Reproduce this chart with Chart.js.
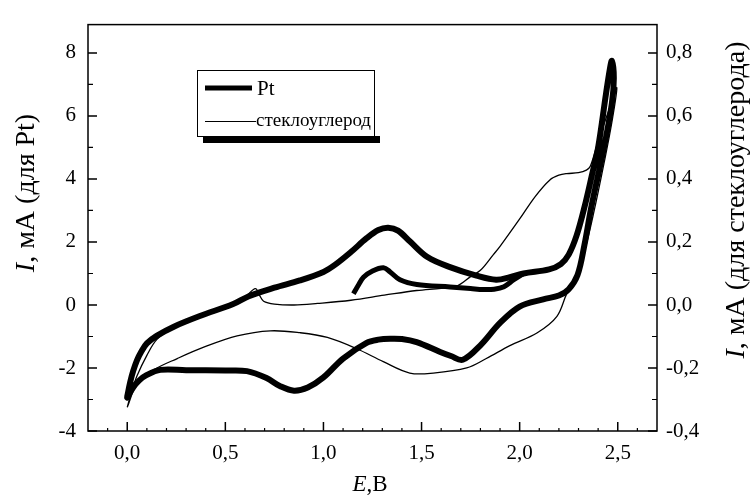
<!DOCTYPE html>
<html>
<head>
<meta charset="utf-8">
<script src="https://cdn.jsdelivr.net/npm/chart.js@4.4.1/dist/chart.umd.min.js"></script>
<style>
  html, body { margin: 0; padding: 0; background: #fff; }
</style>
</head>
<body>
<canvas id="chart" width="750" height="499"></canvas>
<script>
// Pt, full cycle (anodic then cathodic), left axis, mA
const ptE = [0.00, 0.015, 0.03, 0.05, 0.07, 0.10, 0.15, 0.24, 0.37, 0.54, 0.62, 0.75, 0.88, 1.00, 1.06, 1.14, 1.22, 1.28, 1.33, 1.38, 1.44, 1.53, 1.645, 1.78, 1.88, 1.95, 2.02, 2.15, 2.21, 2.25, 2.29, 2.33, 2.37, 2.40, 2.44, 2.46, 2.47,
  2.48, 2.47, 2.43, 2.365, 2.33, 2.295, 2.25, 2.20, 2.12, 2.00, 1.90, 1.80, 1.71, 1.65, 1.595, 1.475, 1.40, 1.34, 1.28, 1.22, 1.10, 1.00, 0.92, 0.85, 0.78, 0.71, 0.61, 0.50, 0.30, 0.17, 0.10, 0.06, 0.03, 0.00];
const ptI = [-2.90, -2.45, -2.10, -1.75, -1.50, -1.22, -0.98, -0.68, -0.35, 0.03, 0.28, 0.55, 0.78, 1.05, 1.28, 1.68, 2.12, 2.38, 2.45, 2.36, 2.02, 1.52, 1.20, 0.93, 0.80, 0.88, 1.00, 1.13, 1.30, 1.60, 2.20, 3.10, 4.17, 5.00, 6.70, 7.50, 7.75,
  7.20, 6.40, 5.00, 3.10, 1.90, 0.95, 0.50, 0.30, 0.18, -0.05, -0.57, -1.28, -1.74, -1.62, -1.49, -1.18, -1.08, -1.07, -1.10, -1.20, -1.70, -2.30, -2.62, -2.72, -2.58, -2.32, -2.10, -2.08, -2.07, -2.06, -2.22, -2.40, -2.62, -2.94];

// Pt, short piece of the next cycle
const pt2E = [1.153, 1.18, 1.204, 1.25, 1.306, 1.34, 1.39, 1.476, 1.645, 1.75, 1.815, 1.87, 1.92, 1.97, 2.02];
const pt2I = [0.36, 0.65, 0.88, 1.08, 1.18, 1.05, 0.80, 0.65, 0.57, 0.52, 0.49, 0.50, 0.58, 0.80, 1.00];

// glassy carbon, right axis, mA
const gcE = [0.00, 0.02, 0.05, 0.10, 0.15, 0.237, 0.30, 0.40, 0.50, 0.60, 0.653, 0.675, 0.695, 0.75, 0.85, 0.97, 1.14, 1.31, 1.475, 1.60, 1.68, 1.75, 1.80, 1.866, 1.90, 2.00, 2.08, 2.154, 2.20, 2.24, 2.30, 2.34, 2.36, 2.40, 2.45, 2.495,
  2.47, 2.43, 2.38, 2.33, 2.28, 2.24, 2.19, 2.09, 1.95, 1.83, 1.73, 1.56, 1.44, 1.305, 1.17, 1.02, 0.88, 0.73, 0.56, 0.39, 0.255, 0.135, 0.05, 0.00];
const gcI = [-0.325, -0.28, -0.225, -0.16, -0.11, -0.068, -0.05, -0.03, -0.005, 0.025, 0.052, 0.03, 0.012, 0.003, 0.0, 0.005, 0.015, 0.031, 0.046, 0.053, 0.06, 0.09, 0.11, 0.16, 0.186, 0.273, 0.345, 0.397, 0.412, 0.417, 0.42, 0.428, 0.44, 0.52, 0.61, 0.69,
  0.58, 0.45, 0.30, 0.17, 0.08, 0.036, -0.036, -0.088, -0.129, -0.17, -0.20, -0.216, -0.216, -0.18, -0.139, -0.103, -0.088, -0.082, -0.098, -0.134, -0.17, -0.206, -0.25, -0.325];

// ticks
const xTicks = [0, 0.5, 1.0, 1.5, 2.0, 2.5];
const xMinor = [-0.1, 0.1, 0.2, 0.3, 0.4, 0.6, 0.7, 0.8, 0.9, 1.1, 1.2, 1.3, 1.4, 1.6, 1.7, 1.8, 1.9, 2.1, 2.2, 2.3, 2.4, 2.6];
const yTicks = [-4, -2, 0, 2, 4, 6, 8];
const yMinor = [-3, -1, 1, 3, 5, 7];
const y2Ticks = [-0.4, -0.2, 0.0, 0.2, 0.4, 0.6, 0.8];
const y2Minor = [-0.3, -0.1, 0.1, 0.3, 0.5, 0.7];

const FONT = '"Liberation Serif", "Times New Roman", serif';
const comma = v => v.toFixed(1).replace('.', ',');
const pts = (xs, ys) => xs.map((x, i) => ({ x: x, y: ys[i] }));

function putTitle(ctx, x, y, rot, ital, rest, size) {
  ctx.save();
  ctx.translate(x, y);
  ctx.rotate(rot);
  const fi = 'italic ' + size + 'px ' + FONT, fn = size + 'px ' + FONT;
  ctx.font = fi;
  const w1 = ctx.measureText(ital).width;
  ctx.font = fn;
  const w2 = ctx.measureText(rest).width;
  const sx = -(w1 + w2) / 2;
  ctx.fillStyle = '#000';
  ctx.textAlign = 'left';
  ctx.textBaseline = 'middle';
  ctx.font = fi;
  ctx.fillText(ital, sx, 0);
  ctx.font = fn;
  ctx.fillText(rest, sx + w1, 0);
  ctx.restore();
}

const framePlugin = {
  id: 'frame',
  afterDatasetsDraw(chart) {
    const ctx = chart.ctx;
    const a = chart.chartArea;
    const sx = chart.scales.x, sy = chart.scales.y, sy2 = chart.scales.y2;
    ctx.save();
    ctx.strokeStyle = '#000';
    ctx.lineWidth = 1.5;
    ctx.strokeRect(a.left, a.top, a.right - a.left, a.bottom - a.top);

    ctx.beginPath();
    xTicks.forEach(v => { const p = sx.getPixelForValue(v); ctx.moveTo(p, a.bottom); ctx.lineTo(p, a.bottom - 9); });
    yTicks.forEach(v => { const p = sy.getPixelForValue(v); ctx.moveTo(a.left, p); ctx.lineTo(a.left + 9, p); });
    y2Ticks.forEach(v => { const p = sy2.getPixelForValue(v); ctx.moveTo(a.right, p); ctx.lineTo(a.right - 9, p); });
    ctx.stroke();
    ctx.lineWidth = 1.2;
    ctx.beginPath();
    xMinor.forEach(v => { const p = sx.getPixelForValue(v); ctx.moveTo(p, a.bottom); ctx.lineTo(p, a.bottom - 3); });
    yMinor.forEach(v => { const p = sy.getPixelForValue(v); ctx.moveTo(a.left, p); ctx.lineTo(a.left + 5, p); });
    y2Minor.forEach(v => { const p = sy2.getPixelForValue(v); ctx.moveTo(a.right, p); ctx.lineTo(a.right - 5, p); });
    ctx.stroke();

    // legend box, shadow only under the bottom edge
    ctx.fillStyle = '#000';
    ctx.fillRect(203, 136, 177, 7);
    ctx.fillStyle = '#fff';
    ctx.fillRect(197, 70, 178, 67);
    ctx.lineWidth = 1;
    ctx.strokeRect(197.5, 70.5, 177, 66);
    ctx.lineWidth = 5;
    ctx.beginPath(); ctx.moveTo(205, 88); ctx.lineTo(252, 88); ctx.stroke();
    ctx.lineWidth = 1;
    ctx.beginPath(); ctx.moveTo(205, 121.5); ctx.lineTo(256, 121.5); ctx.stroke();
    ctx.fillStyle = '#000';
    ctx.textAlign = 'left';
    ctx.textBaseline = 'alphabetic';
    ctx.font = '21px ' + FONT;
    ctx.fillText('Pt', 257, 95);
    ctx.font = '19px ' + FONT;
    ctx.fillText('стеклоуглерод', 256, 126);
    ctx.restore();

    putTitle(ctx, 27, 193, -Math.PI / 2, 'I', ', мА (для Pt)', 28);
    putTitle(ctx, 737, 200, -Math.PI / 2, 'I', ', мА (для стеклоуглерода)', 28);
    putTitle(ctx, 370, 485, 0, 'E', ',В', 23);
  }
};

new Chart(document.getElementById('chart'), {
  type: 'scatter',
  data: {
    datasets: [
      { label: 'Pt', data: pts(ptE, ptI), showLine: true, borderColor: '#000', borderWidth: 6, pointRadius: 0, tension: 0.35, yAxisID: 'y', borderJoinStyle: 'round', borderCapStyle: 'round' },
      { label: 'Pt2', data: pts(pt2E, pt2I), showLine: true, borderColor: '#000', borderWidth: 5, pointRadius: 0, tension: 0.35, yAxisID: 'y' },
      { label: 'стеклоуглерод', data: pts(gcE, gcI), showLine: true, borderColor: '#000', borderWidth: 1.3, pointRadius: 0, tension: 0.35, yAxisID: 'y2' }
    ]
  },
  options: {
    responsive: false,
    animation: false,
    devicePixelRatio: 1,
    layout: { padding: { top: 15 } },
    plugins: { legend: { display: false }, tooltip: { enabled: false } },
    scales: {
      x: {
        type: 'linear', min: -0.2, max: 2.7,
        grid: { display: false, drawTicks: false }, border: { display: false },
        ticks: { color: '#000', font: { family: FONT, size: 21 }, padding: 10, callback: v => comma(v) },
        afterBuildTicks: s => { s.ticks = xTicks.map(v => ({ value: v })); },
        afterFit: s => { s.height = 68; }
      },
      y: {
        type: 'linear', position: 'left', min: -4, max: 8.9,
        grid: { display: false, drawTicks: false }, border: { display: false },
        ticks: { color: '#000', font: { family: FONT, size: 21 }, padding: 12, callback: v => String(v) },
        afterBuildTicks: s => { s.ticks = yTicks.map(v => ({ value: v })); },
        afterFit: s => { s.width = 88; }
      },
      y2: {
        type: 'linear', position: 'right', min: -0.4, max: 0.89,
        grid: { display: false, drawTicks: false }, border: { display: false },
        ticks: { color: '#000', font: { family: FONT, size: 21 }, padding: 9, callback: v => comma(v) },
        afterBuildTicks: s => { s.ticks = y2Ticks.map(v => ({ value: v })); },
        afterFit: s => { s.width = 93; }
      }
    }
  },
  plugins: [framePlugin]
});
</script>
</body>
</html>
